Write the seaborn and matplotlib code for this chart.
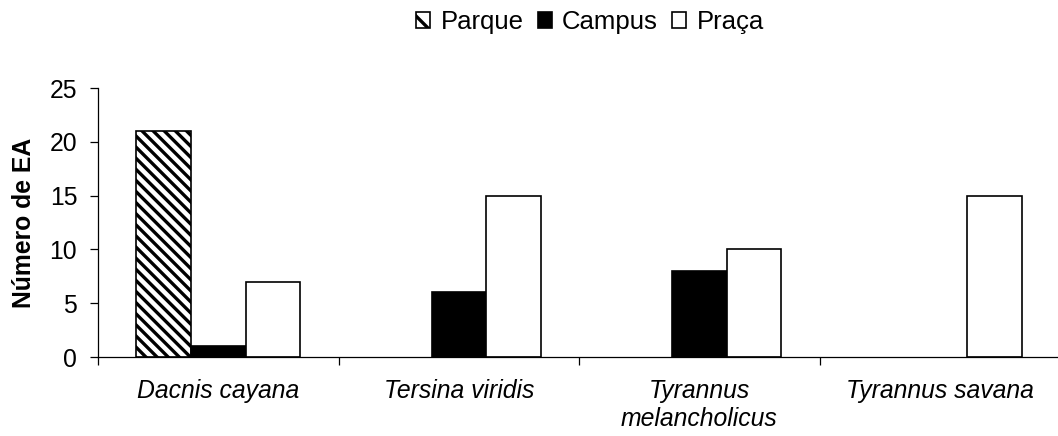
import matplotlib
matplotlib.use("Agg")
import matplotlib.pyplot as plt
from matplotlib.patches import Patch
import seaborn as sns
import pandas as pd

# ---- data ----
species = ["Dacnis cayana", "Tersina viridis", "Tyrannus\nmelancholicus", "Tyrannus savana"]
locais = ["Parque", "Campus", "Praça"]
parque = [21, 0, 0, 0]
campus = [1, 6, 8, 0]
praca = [7, 15, 10, 15]
y_ticks = [0, 5, 10, 15, 20, 25]

rows = []
for sp, a, b, c in zip(species, parque, campus, praca):
    rows.append((sp, "Parque", a))
    rows.append((sp, "Campus", b))
    rows.append((sp, "Praça", c))
df = pd.DataFrame(rows, columns=["especie", "local", "n"])

sns.set_theme(style="white")
plt.rcParams["font.family"] = ["Liberation Sans", "DejaVu Sans"]
plt.rcParams["hatch.linewidth"] = 2.4
plt.rcParams["hatch.color"] = "black"
for k in ["text.color", "axes.labelcolor", "xtick.color", "ytick.color"]:
    plt.rcParams[k] = "black"

FS = 17.8
fig = plt.figure(figsize=(10.58, 4.36), dpi=100)
ax = fig.add_axes([98 / 1058, 1 - 357 / 436, 1 - 98 / 1058 + 0.002, (357 - 88) / 436])

sns.barplot(data=df, x="especie", y="n", hue="local", hue_order=locais,
            order=species, palette=["white", "black", "white"],
            edgecolor="black", linewidth=1.2, width=0.68, ax=ax,
            legend=False, errorbar=None, saturation=1)

for bar in ax.containers[0]:
    bar.set_hatch("\\\\\\")
for cont in ax.containers:
    for bar in cont:
        if bar.get_height() == 0:
            bar.set_linewidth(0)

ax.set_ylim(0, 25)
ax.set_xlim(-0.5, 3.5)
ax.set_yticks(y_ticks)
ax.set_yticklabels([str(t) for t in y_ticks])
ax.set_xlabel("")
ax.set_ylabel("Número de EA", fontsize=FS, fontweight="bold", labelpad=10)

for s in ["top", "right"]:
    ax.spines[s].set_visible(False)
for s in ["left", "bottom"]:
    ax.spines[s].set_color("black")
    ax.spines[s].set_linewidth(0.9)

ax.tick_params(axis="y", which="major", direction="out", length=6, width=0.9,
               color="black", pad=9, labelsize=FS, left=True)
ax.tick_params(axis="x", which="major", length=0, pad=16, labelsize=FS)
for lbl in ax.get_xticklabels():
    lbl.set_fontstyle("italic")
ax.set_xticks([-0.5, 0.5, 1.5, 2.5, 3.5], minor=True)
ax.tick_params(axis="x", which="minor", direction="out", length=6, width=0.9,
               color="black", bottom=True)

handles = [
    Patch(facecolor="white", edgecolor="black", hatch="\\", linewidth=1.2, label="Parque"),
    Patch(facecolor="black", edgecolor="black", linewidth=1.2, label="Campus"),
    Patch(facecolor="white", edgecolor="black", linewidth=1.2, label="Praça"),
]
fig.legend(handles=handles, loc="center", bbox_to_anchor=(590 / 1058, 1 - 22 / 436),
           ncol=3, frameon=False, fontsize=18.5, handlelength=0.55, handleheight=0.55,
           handletextpad=0.4, columnspacing=0.55, borderpad=0)

fig.savefig("out.png", dpi=100)
